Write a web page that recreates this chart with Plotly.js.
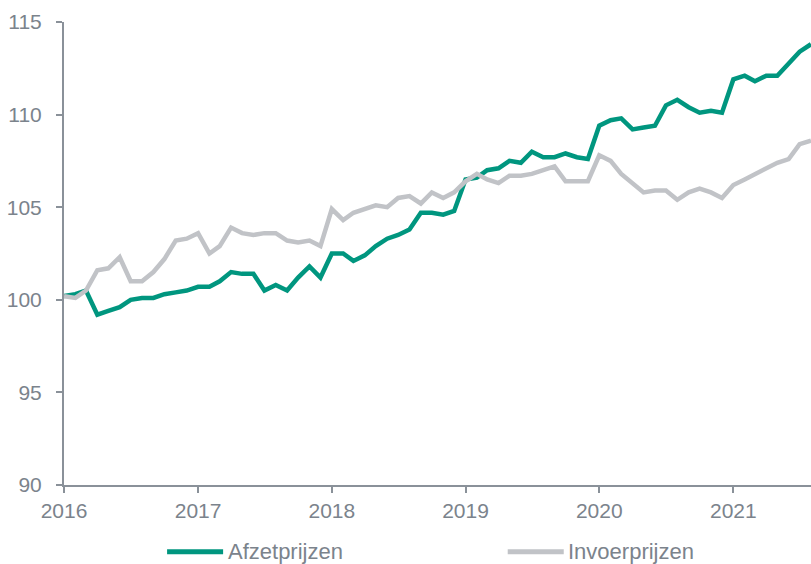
<!DOCTYPE html>
<html>
<head>
<meta charset="utf-8">
<script src="https://cdn.plot.ly/plotly-3.0.1.min.js"></script>
<style>html,body{margin:0;padding:0;background:#fff;}#chart{width:811px;height:564px;}</style>
</head>
<body>
<div id="chart"></div>
<script>
// Monthly index values, January 2016 through August 2021
var years = [2016, 2017, 2018, 2019, 2020, 2021];
var yearLabels = ['2016', '2017', '2018', '2019', '2020', '2021'];

var afzetprijzen = [
  100.2, 100.3, 100.5, 99.2, 99.4, 99.6, 100.0, 100.1, 100.1, 100.3, 100.4, 100.5,
  100.7, 100.7, 101.0, 101.5, 101.4, 101.4, 100.5, 100.8, 100.5, 101.2, 101.8, 101.2,
  102.5, 102.5, 102.1, 102.4, 102.9, 103.3, 103.5, 103.8, 104.7, 104.7, 104.6, 104.8,
  106.5, 106.6, 107.0, 107.1, 107.5, 107.4, 108.0, 107.7, 107.7, 107.9, 107.7, 107.6,
  109.4, 109.7, 109.8, 109.2, 109.3, 109.4, 110.5, 110.8, 110.4, 110.1, 110.2, 110.1,
  111.9, 112.1, 111.8, 112.1, 112.1, 112.8, 113.4, 113.8
];

var invoerprijzen = [
  100.2, 100.1, 100.5, 101.6, 101.7, 102.3, 101.0, 101.0, 101.5, 102.2, 103.2, 103.3,
  103.6, 102.5, 102.9, 103.9, 103.6, 103.5, 103.6, 103.6, 103.2, 103.1, 103.2, 102.9,
  104.9, 104.3, 104.7, 104.9, 105.1, 105.0, 105.5, 105.6, 105.2, 105.8, 105.5, 105.8,
  106.4, 106.8, 106.5, 106.3, 106.7, 106.7, 106.8, 107.0, 107.2, 106.4, 106.4, 106.4,
  107.8, 107.5, 106.8, 106.3, 105.8, 105.9, 105.9, 105.4, 105.8, 106.0, 105.8, 105.5,
  106.2, 106.5, 106.8, 107.1, 107.4, 107.6, 108.4, 108.6
];

var seriesNames = ['Afzetprijzen', 'Invoerprijzen'];
var seriesColors = ['#00967f', '#c1c3c7'];

// month dates (categories)
var months = [];
for (var i = 0; i < afzetprijzen.length; i++) {
  var y = 2016 + Math.floor(i / 12);
  var m = (i % 12) + 1;
  months.push(y + '-' + (m < 10 ? '0' + m : m) + '-01');
}
var tickDates = years.map(function (y) { return y + '-01-01'; });

var axisColor = '#8a9199';
var textColor = '#7b838c';
var fontFam = '"Liberation Sans", Arial, sans-serif';

var traces = [
  {x: months, y: afzetprijzen, name: seriesNames[0], type: 'scatter', mode: 'lines',
   line: {color: seriesColors[0], width: 4.5}, showlegend: false},
  {x: months, y: invoerprijzen, name: seriesNames[1], type: 'scatter', mode: 'lines',
   line: {color: seriesColors[1], width: 4.5}, showlegend: false}
];

// custom legend (long line swatches)
var legY = -0.144;
var legItems = [
  {x0: 0.138, x1: 0.213, tx: 0.2165},
  {x0: 0.594, x1: 0.669, tx: 0.6725}
];
var shapes = [], annotations = [];
legItems.forEach(function (it, k) {
  shapes.push({type: 'line', xref: 'paper', yref: 'paper', x0: it.x0, x1: it.x1, y0: legY, y1: legY,
    line: {color: seriesColors[k], width: 5}});
  annotations.push({xref: 'paper', yref: 'paper', x: it.tx, y: legY, xanchor: 'left', yanchor: 'middle',
    text: seriesNames[k], showarrow: false, font: {family: fontFam, size: 22, color: textColor}});
});

var layout = {
  width: 811, height: 564,
  margin: {l: 64, r: 0, t: 22, b: 79, pad: 0},
  paper_bgcolor: '#ffffff', plot_bgcolor: '#ffffff',
  font: {family: fontFam, size: 21, color: textColor},
  showlegend: false,
  xaxis: {
    type: 'date', range: ['2016-01-01', '2021-08-01'],
    tickvals: tickDates, ticktext: yearLabels,
    showline: true, linecolor: axisColor, linewidth: 2,
    ticks: 'outside', ticklen: 6, tickwidth: 2, tickcolor: axisColor,
    showgrid: false, zeroline: false,
    tickfont: {family: fontFam, size: 21, color: textColor}
  },
  yaxis: {
    range: [90, 115], tick0: 90, dtick: 5,
    showline: true, linecolor: axisColor, linewidth: 2,
    ticks: 'outside', ticklen: 6, tickwidth: 2, tickcolor: axisColor,
    showgrid: false, zeroline: false, ticklabelstandoff: 10,
    tickfont: {family: fontFam, size: 21, color: textColor}
  },
  shapes: shapes,
  annotations: annotations
};

Plotly.newPlot('chart', traces, layout, {displayModeBar: false, staticPlot: true});
</script>
</body>
</html>
